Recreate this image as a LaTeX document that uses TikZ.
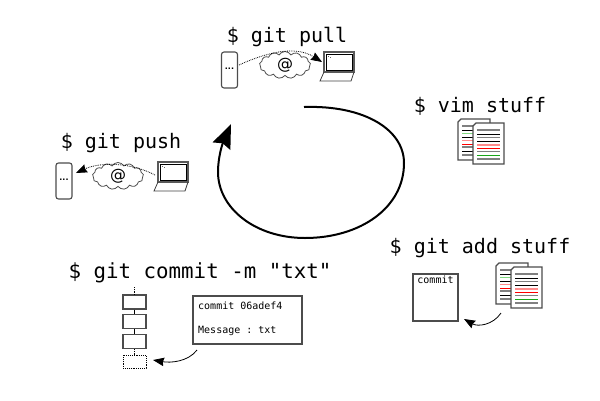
\documentclass[tikz,border=0pt]{standalone}
\usepackage{fontspec}
\setmainfont{DejaVu Sans}
\setmonofont{DejaVu Sans Mono}
\usetikzlibrary{arrows.meta,shapes.symbols,positioning,calc}

\definecolor{barGray}{gray}{0.5}
\definecolor{barGreen}{rgb}{0.1,0.65,0.1}
\definecolor{barPale}{rgb}{0.5,0.85,0.5}
\definecolor{barPink}{rgb}{1,0.55,0.55}

\tikzset{
  cmd/.style={font=\ttfamily\fontsize{20}{24}\selectfont,inner sep=0pt,anchor=base},
  small/.style={font=\ttfamily\fontsize{10}{12}\selectfont,inner sep=0pt},
  outline/.style={draw=black!70,line width=1.1pt},
  server/.style={outline,rounded corners=2.5pt,minimum width=16pt,minimum height=36pt,inner sep=0pt},
  netcloud/.style={cloud,cloud puffs=13,cloud puff arc=120,aspect=2,draw=black!70,line width=0.8pt,minimum width=51pt,minimum height=27pt,inner sep=0pt,font=\fontsize{16}{16}\selectfont},
  transfer/.style={densely dotted,line width=0.8pt,-{Stealth[length=11pt,width=8.5pt,inset=1pt]}},
  curved/.style={line width=0.8pt,-{Stealth[length=11pt,width=8.5pt,inset=1pt]}},
  block/.style={outline,minimum width=23pt,minimum height=14pt,inner sep=0pt},
  newblock/.style={draw=black,densely dotted,line width=0.9pt,minimum width=23pt,minimum height=13pt,inner sep=0pt},
  sheet/.style={draw=black!70,line width=1.1pt,fill=white},
  % laptop, origin at the centre of the screen
  pics/laptop/.style={code={
    \draw[draw=black!65,line width=1.4pt,fill=white] (-15,-10) rectangle (15,10);
    \draw[draw=black,line width=0.6pt] (-13,-8) rectangle (13,8);
    \draw[black!60,line width=0.5pt] (-11,-6) -- (-10,-6) (-9,-5) -- (-8,-5);
    \draw[draw=black!75,line width=0.8pt] (-15,10) -- (-19,19) -- (12,19) -- (15,10);
  }},
  % two pages, origin at the top left of the back page
  pics/pages/.style={code={
    \draw[sheet] (3,0) -- (32,0) -- (32,41) -- (0,41) -- (0,3) -- cycle;
    \foreach \y/\c/\w in {7/barGray/1.4,11/black/0.8,14.5/barPale/1.8,18/black/0.8,21.5/barPink/1.8,25/red/0.8,28/barGray/1.4,32/black/0.8,36/barGray/1.4}
      \draw[draw=\c,line width=\w pt] (4,\y) -- (28,\y);
    \draw[sheet] (18,4) -- (46,4) -- (46,45) -- (15,45) -- (15,7) -- cycle;
    \foreach \y/\c/\w in {11/barGray/1.4,15/black/0.8,18.5/barGray/1.4,22/black/0.8,25.5/barPink/2,29/red/0.8,32.5/barGray/1.4,36/barGreen/0.9,40/barGray/1.4}
      \draw[draw=\c,line width=\w pt] (19,\y) -- (42,\y);
  }}
}

\begin{document}
\begin{tikzpicture}[x=1pt,y=-1pt]
\useasboundingbox (0,0) rectangle (600,400);

% main cycle
\coordinate (cycleA) at (304,107);
\coordinate (cycleB) at (404,163);
\coordinate (cycleC) at (305,238);
\coordinate (cycleD) at (218,172);
\coordinate (cycleE) at (231,124);
\draw[line width=2pt,-{Stealth[length=24pt,width=19pt,inset=3pt]}] (cycleA) .. controls (365,105) and (404,130) .. (cycleB)
  .. controls (404,208) and (360,238) .. (cycleC)
  .. controls (255,238) and (218,208) .. (cycleD)
  .. controls (218,158) and (222,145) .. (cycleE);

% git pull
\node[cmd] (pull) at (287,42) {\$ git pull};
\node[server] (serverA) at (229.5,70) {\raisebox{3pt}{\fontsize{8}{8}\selectfont\textbf{...}}};
\node[netcloud] (cloudA) at (285,65) {@};
\pic at (339,62) {laptop};
\coordinate (laptopA) at (322,62);
\coordinate (serverAout) at (239,65);
\draw[transfer] (serverAout) .. controls (265,53) and (295,45) .. (laptopA);

% git push
\node[cmd] (push) at (121,148) {\$ git push};
\node[server] (serverB) at (64,181) {\raisebox{3pt}{\fontsize{8}{8}\selectfont\textbf{...}}};
\node[netcloud] (cloudB) at (118,176) {@};
\pic at (173,172) {laptop};
\coordinate (laptopB) at (155,175);
\coordinate (serverBin) at (76,173);
\draw[transfer] (laptopB) .. controls (130,162) and (100,162) .. (serverBin);

% vim stuff
\node[cmd] (vim) at (480,112) {\$ vim stuff};
\pic at (458,119) {pages};

% git add stuff
\node[cmd] (add) at (480,253) {\$ git add stuff};
\pic at (496,263) {pages};
\node[outline,minimum width=45pt,minimum height=47pt,inner sep=0pt] (commitbox) at (435.5,297.5) {};
\node[small] (commitlabel) at (435.5,280) {commit};
\coordinate (addfrom) at (501,313);
\coordinate (addto) at (464,319);
\draw[curved] (addfrom) .. controls (493,325) and (478,327) .. (addto);

% git commit
\node[cmd,font=\ttfamily\fontsize{20.8}{24}\selectfont] (commit) at (200,278) {\$ git commit -m "txt"};
\node[block] (blockA) at (134.5,302) {};
\node[block] (blockB) at (134.5,321.5) {};
\node[block] (blockC) at (134.5,341.5) {};
\node[newblock] (blockD) at (134.5,361.5) {};
\coordinate (chaintop) at (134.5,287);
\draw[densely dotted,line width=0.8pt] (chaintop) -- (blockA);
\draw[line width=0.9pt] (blockA) -- (blockB);
\draw[line width=0.9pt] (blockB) -- (blockC);
\draw[densely dotted,line width=0.8pt] (blockC) -- (blockD);
\node[outline,minimum width=109pt,minimum height=48pt,inner sep=0pt] (infobox) at (247.5,320) {};
\node[small,right] (hash) at (198,306) {commit 06adef4};
\node[small,right] (msg) at (198,331) {Message : txt};
\coordinate (infofrom) at (197,350);
\coordinate (blockin) at (153,360);
\draw[curved] (infofrom) .. controls (188,362) and (170,363) .. (blockin);
\end{tikzpicture}
\end{document}
